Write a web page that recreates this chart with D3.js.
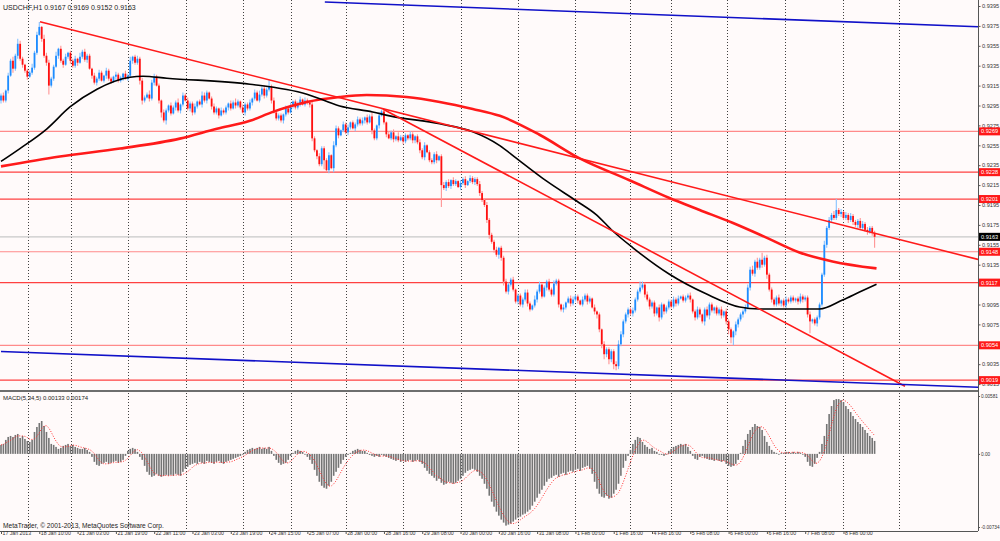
<!DOCTYPE html>
<html><head><meta charset="utf-8">
<script src="https://cdn.jsdelivr.net/npm/d3@7"></script>
<style>
html,body{margin:0;padding:0;background:#fffafa;overflow:hidden;}
svg{display:block;}
text{font-family:"Liberation Sans",Arial,sans-serif;}
</style></head><body>
<svg id="c" width="1000" height="541"></svg>
<script>
// ---------------- DATA ----------------
const symbol = "USDCHF,H1";
const lastOHLC = ["0.9167", "0.9169", "0.9152", "0.9163"];
const macdTitle = "MACD(5,34,5) 0.00133 0.00174";
const copyright = "MetaTrader, \u00A9 2001-2013, MetaQuotes Software Corp.";
const pipBase = 0.9000;          // closes are in pips above this
const firstOpen = 300;
// hourly closes (pips above 0.9000)
const closes = [
305,300,310,325,340,332,345,357,342,336,
330,324,328,333,348,366,374,362,345,338,
315,322,334,345,352,340,336,344,348,340,
335,342,338,344,349,341,345,332,325,318,
322,328,320,325,330,322,319,324,326,320,
323,327,322,325,340,344,338,342,320,300,
303,306,302,318,324,315,300,288,280,290,
295,287,293,298,290,296,305,300,292,297,
288,294,299,296,305,300,308,302,294,288,
292,285,290,288,293,297,292,298,295,299,
293,288,296,292,298,302,308,300,306,312,
305,311,314,300,288,282,285,280,286,292,
288,295,299,293,297,301,296,300,298,296,
262,250,244,236,252,240,230,245,232,255,
272,265,270,276,268,273,278,272,276,281,
277,280,283,278,284,270,262,275,285,289,
278,266,262,268,261,264,260,263,259,265,
262,266,260,264,258,250,243,255,248,240,
238,246,240,244,215,212,218,214,220,216,
219,213,217,221,215,219,222,218,221,216,
207,200,195,180,165,158,150,145,152,142,
118,108,115,120,110,98,104,95,100,107,
96,90,94,100,108,115,103,112,118,110,
105,116,119,95,90,92,97,101,96,100,
103,99,95,100,104,98,101,92,88,85,
70,55,45,50,40,48,35,33,55,65,
78,85,90,86,89,100,108,112,115,105,
100,93,97,86,92,82,95,88,92,98,
93,100,96,101,103,99,102,104,100,88,
82,90,85,78,90,84,95,89,92,86,
90,84,88,78,70,62,68,75,80,85,
88,92,112,130,126,138,132,140,135,142,
125,110,100,95,102,96,99,94,100,98,
102,99,101,98,103,100,102,85,78,80,
76,82,95,125,155,172,180,185,182,190,
186,188,182,185,180,184,178,175,179,172,
176,170,168,172,167,163];
// upper / lower wick length per bar in pips (base-36 digits)
const upperWicks =
"2313242532"+"1224235143"+"3224132312"+"2314232213"+"2321322132"+"2132412323"+
"2243322132"+"1322413232"+"2312432123"+"2132213242"+"1322313242"+"3272312213"+
"2312231322"+"3213222314"+"3213231223"+"2313242132"+"2132314222"+"1321232312"+
"2231232313"+"2132313222"+"3213222312"+"2322312223"+"3214231223"+"2322131233"+
"2213222131"+"2132222343"+"2222322632"+"3222132122"+"2323122231"+"2321232212"+
"2313221322"+"2333424272"+"3222231232"+"2212322231"+"222242324b"+"2313232223"+"323222";
const lowerWicks =
"3223142323"+"2312221323"+"9221323123"+"2231223132"+"3212322132"+"2312232244"+
"2132313524"+"2213232123"+"3221323132"+"2312232132"+"2132232122"+"3223122232"+
"2132231223"+"3232292314"+"2312232132"+"2232142231"+"2312322132"+"2233232312"+
"2231m23232"+"2132312232"+"3223423243"+"4232223232"+"3212322132"+"2223232132"+
"2312232134"+"3453535432"+"3232322223"+"2323242322"+"2232122232"+"3232424232"+
"2323568432"+"3223232232"+"4232223232"+"22232323c2"+"2322232222"+"2322323232"+"32323b";
// MACD main values (units of 0.0001)
const macd = [
9,10,14,17,18,17,19,20,16,18,
15,13,12,14,22,27,31,33,28,22,
16,10,9,7,5,6,8,9,10,8,
9,7,6,5,5,6,4,2,-3,-8,
-11,-12,-10,-9,-8,-10,-9,-8,-7,-9,
-8,-6,-2,3,5,6,5,2,-3,-6,
-12,-18,-21,-23,-22,-20,-22,-23,-22,-21,
-22,-21,-22,-20,-21,-22,-18,-15,-13,-11,
-10,-9,-10,-8,-9,-10,-7,-8,-9,-10,
-8,-7,-9,-10,-8,-7,-6,-5,-4,-3,
-2,0,2,4,5,6,5,6,7,5,
6,5,7,3,-2,-6,-9,-11,-10,-9,
-6,-2,1,3,4,3,2,0,-3,-6,
-10,-16,-22,-28,-32,-34,-35,-32,-28,-22,
-18,-14,-10,-6,-3,-1,1,3,4,5,
4,3,3,1,-1,-2,-3,-2,-3,-1,
-2,-3,-4,-5,-6,-7,-6,-8,-7,-8,
-7,-6,-8,-7,-6,-8,-10,-14,-17,-20,
-22,-24,-27,-25,-29,-31,-30,-28,-29,-30,
-29,-27,-25,-22,-19,-17,-16,-15,-16,-18,
-22,-25,-30,-35,-42,-48,-53,-58,-62,-66,
-69,-72,-71,-70,-68,-66,-64,-63,-61,-60,
-58,-56,-52,-48,-44,-40,-36,-32,-28,-25,
-24,-22,-21,-23,-20,-19,-21,-18,-17,-18,
-16,-15,-17,-14,-13,-12,-15,-20,-28,-35,
-40,-43,-44,-42,-45,-44,-40,-36,-30,-22,
-14,-7,-2,4,10,14,17,16,12,9,
7,5,6,3,2,0,-1,-2,0,3,
5,7,8,9,10,9,10,7,3,-2,
-5,-6,-3,-2,-4,-5,-6,-6,-7,-6,
-7,-8,-7,-10,-12,-13,-12,-10,-6,1,
8,14,20,24,27,30,28,27,24,18,
12,8,4,2,1,0,1,1,2,2,
1,2,1,2,1,0,-3,-8,-12,-13,
-10,-4,2,10,18,30,40,48,54,55,
55,54,52,48,45,42,38,35,32,30,
27,24,21,18,16,13];
const signalPeriod = 5;
// moving averages: [bar index, pips]
const blackMA = [[0,238.8],[7.9,251.7],[19.2,271.6],[28.8,293.5],[40.1,311.4],[53.9,323.4],[59.3,324.4],[69.3,322.4],[104,316.4],[127.8,306.4],[141.5,294.5],[155.3,288.5],[162.4,284.6],[183.3,276.6],[197.1,268.6],[208.4,254.7],[215.4,241.8],[228,218.9],[240.5,199],[248.8,185.1],[255.5,169.1],[263.9,152.2],[279.3,125.4],[294.8,105.5],[308.6,92.5],[316.9,90.5],[333.6,90.5],[342,90.5],[351.6,99.5],[358.7,107.5],[365.8,115.4]];
const redMA = [[0,233.8],[24.6,243.8],[49.7,251.7],[74.7,261.7],[90.2,271.6],[104,279.6],[113.6,288.6],[127.8,298.5],[141.5,303.5],[152.8,305.5],[169.5,303.5],[183.3,298.5],[197.1,291.5],[208.4,284.6],[225,265.6],[241.8,241.8],[262.6,219.9],[279.3,202],[291.9,190],[305.6,177.1],[319.8,162.2],[333.6,147.3],[347.4,138.3],[365.8,131.3]];
// trend lines: [bar, pips] -> [bar, pips]
const redTrend = [[[16.3,379.1],[408.2,140.3]], [[159.5,291.5],[377.7,12.9]]];
const blueTrend = [[[135.3,399],[408.2,374.1]], [[0,47.7],[408.2,11.9]]];
const levels = [0.9269, 0.9228, 0.9201, 0.9148, 0.9117, 0.9054, 0.9019];
const levelLight = [true, false, false, true, false, true, false];
const currentPrice = 0.9163;
// 0.9115 and 0.9055 sit under the 0.9117 / 0.9054 level labels in the picture
const priceTicks = [0.9395,0.9375,0.9355,0.9335,0.9315,0.9295,0.9275,0.9255,0.9235,0.9215,0.9195,0.9175,0.9155,0.9135,0.9095,0.9075,0.9035,0.9015];
const macdTicks = [0.00581, 0, -0.00734];
const macdTickLabels = ["0.00581", "0.00", "-0.00734"];
const timeLabels = ["17 Jan 2013","18 Jan 10:00","21 Jan 03:00","21 Jan 19:00","22 Jan 11:00","23 Jan 03:00","23 Jan 19:00","24 Jan 15:00","25 Jan 07:00","28 Jan 00:00","28 Jan 16:00","29 Jan 08:00","30 Jan 00:00","30 Jan 16:00","31 Jan 08:00","1 Feb 00:00","1 Feb 16:00","4 Feb 16:00","5 Feb 08:00","6 Feb 00:00","6 Feb 16:00","7 Feb 08:00","8 Feb 00:00"];
const timeLabelStep = 16;
const gridBars = [11.3,29.2,53,77.2,101,121,144,168,192,216,240,263,280,303.5,327.5,351.6,375.4];

// ---------------- CHART ----------------
const W = 1000, H = 541, plotR = 978, priceBottom = 390, macdTop = 392, macdBottom = 531;
const FONT = "Liberation Sans, Arial, sans-serif";
const svg = d3.select("#c");
svg.append("rect").attr("width", W).attr("height", H).attr("fill", "#fffafa");

const x = d3.scaleLinear().domain([0, 408.2]).range([1, plotR]);
const yP = d3.scaleLinear().domain([0.9015, 0.9395]).range([384.1, 6]);
const yM = d3.scaleLinear().domain([-0.00734, 0.00581]).range([527, 396]);
const px = v => pipBase + v / 10000;

const defs = svg.append("defs");
defs.append("clipPath").attr("id", "cp").append("rect").attr("x", 0).attr("y", 0).attr("width", plotR).attr("height", priceBottom);
defs.append("clipPath").attr("id", "cm").append("rect").attr("x", 0).attr("y", macdTop).attr("width", plotR).attr("height", macdBottom - macdTop);

// vertical dotted grid
svg.append("g").selectAll("line").data(gridBars).join("line")
  .attr("x1", d => Math.round(x(d)) + 0.5).attr("x2", d => Math.round(x(d)) + 0.5)
  .attr("y1", 0).attr("y2", macdBottom)
  .attr("stroke", "#404040").attr("stroke-width", 1).attr("stroke-dasharray", "1,2");

const gp = svg.append("g").attr("clip-path", "url(#cp)");

// horizontal level lines
gp.selectAll("line.lvl").data(levels).join("line").attr("class", "lvl")
  .attr("x1", 0).attr("x2", plotR)
  .attr("y1", d => yP(d)).attr("y2", d => yP(d))
  .attr("stroke", (d, i) => levelLight[i] ? "#ff8a8a" : "#ff4040").attr("stroke-width", 1.2);
gp.append("line").attr("x1", 0).attr("x2", plotR)
  .attr("y1", yP(currentPrice)).attr("y2", yP(currentPrice))
  .attr("stroke", "#c8c8c8").attr("stroke-width", 1.2);

// candles
const n = Math.min(closes.length, upperWicks.length, lowerWicks.length);
const bars = d3.range(n).map(i => {
  const o = i === 0 ? firstOpen : closes[i - 1];
  const c = closes[i];
  const h = Math.max(o, c) + parseInt(upperWicks[i], 36);
  const l = Math.min(o, c) - parseInt(lowerWicks[i], 36);
  return {i, o, c, h, l};
});
const cg = gp.append("g");
cg.selectAll("line").data(bars).join("line")
  .attr("x1", d => x(d.i)).attr("x2", d => x(d.i))
  .attr("y1", d => yP(px(d.h))).attr("y2", d => yP(px(d.l)))
  .attr("stroke", d => d.c > d.o ? "#86c2ff" : "#ff9494").attr("stroke-width", 1.1);
cg.selectAll("rect").data(bars).join("rect")
  .attr("x", d => x(d.i) - 0.9).attr("width", 1.8)
  .attr("y", d => yP(px(Math.max(d.o, d.c))))
  .attr("height", d => Math.max(1, yP(px(Math.min(d.o, d.c))) - yP(px(Math.max(d.o, d.c)))))
  .attr("fill", d => d.c > d.o ? "#1e8cff" : "#ff1010");

// moving averages
const maLine = d3.line().x(d => x(d[0])).y(d => yP(px(d[1]))).curve(d3.curveMonotoneX);
gp.append("path").attr("d", maLine(redMA)).attr("fill", "none").attr("stroke", "#ff1a1a").attr("stroke-width", 2.6);
gp.append("path").attr("d", maLine(blackMA)).attr("fill", "none").attr("stroke", "#000").attr("stroke-width", 1.6);

// trend lines
const tl = d3.line().x(d => x(d[0])).y(d => yP(px(d[1])));
redTrend.forEach(s => gp.append("path").attr("d", tl(s)).attr("fill", "none").attr("stroke", "#ff1a1a").attr("stroke-width", 1.6));
blueTrend.forEach(s => gp.append("path").attr("d", tl(s)).attr("fill", "none").attr("stroke", "#1010c8").attr("stroke-width", 1.6));

// MACD
const gm = svg.append("g").attr("clip-path", "url(#cm)");
const mv = macd.map(v => v / 10000);
gm.selectAll("rect").data(mv).join("rect")
  .attr("x", (d, i) => x(i) - 0.8).attr("width", 1.6)
  .attr("y", d => Math.min(yM(0), yM(d)))
  .attr("height", d => Math.max(0.8, Math.abs(yM(d) - yM(0))))
  .attr("fill", "#747474");
const signal = mv.map((d, i) => d3.mean(mv.slice(Math.max(0, i - signalPeriod + 1), i + 1)));
gm.append("path").attr("d", d3.line().x((d, i) => x(i)).y(d => yM(d))(signal))
  .attr("fill", "none").attr("stroke", "#ff3030").attr("stroke-width", 1).attr("stroke-dasharray", "1,1.6");

// frame
svg.append("line").attr("x1", 0).attr("x2", plotR).attr("y1", 391).attr("y2", 391).attr("stroke", "#6e6e6e").attr("stroke-width", 2);
svg.append("line").attr("x1", plotR + 0.5).attr("x2", plotR + 0.5).attr("y1", 0).attr("y2", macdBottom).attr("stroke", "#555").attr("stroke-width", 1);

// price axis
const pa = svg.append("g").attr("transform", `translate(${plotR + 0.5},0)`)
  .call(d3.axisRight(yP).tickValues(priceTicks).tickFormat(d3.format(".4f")).tickSize(2).tickPadding(1.5));
pa.select(".domain").remove();
pa.selectAll("line").attr("stroke", "#555");
pa.selectAll("text").attr("font-size", 5.6).attr("fill", "#333").attr("font-family", FONT);

// MACD axis
const ma = svg.append("g").attr("transform", `translate(${plotR + 0.5},0)`)
  .call(d3.axisRight(yM).tickValues(macdTicks).tickFormat((d, i) => macdTickLabels[i]).tickSize(1.5).tickPadding(1));
ma.select(".domain").remove();
ma.selectAll("line").attr("stroke", "#555");
ma.selectAll("text").attr("font-size", 4.7).attr("fill", "#333").attr("font-family", FONT);

// level labels
const lg = svg.append("g");
levels.forEach(v => {
  lg.append("rect").attr("x", plotR + 1).attr("y", yP(v) - 4).attr("width", 21).attr("height", 8).attr("fill", "#ff1818");
  lg.append("text").attr("x", plotR + 3).attr("y", yP(v) + 2).attr("font-size", 5.6).attr("fill", "#fff").text(d3.format(".4f")(v));
});
lg.append("rect").attr("x", plotR + 1).attr("y", yP(currentPrice) - 4).attr("width", 21).attr("height", 8).attr("fill", "#000");
lg.append("text").attr("x", plotR + 3).attr("y", yP(currentPrice) + 2).attr("font-size", 5.6).attr("fill", "#fff").text(d3.format(".4f")(currentPrice));

// time axis
const ta = svg.append("g").attr("transform", `translate(0,${macdBottom})`)
  .call(d3.axisBottom(x).tickValues(timeLabels.map((t, k) => k * timeLabelStep))
    .tickFormat((d, k) => timeLabels[k]).tickSize(3).tickPadding(2));
ta.select(".domain").attr("d", `M0,0.5H${plotR}`).attr("stroke", "#555");
ta.selectAll("line").attr("stroke", "#555");
ta.selectAll("text").attr("text-anchor", "start").attr("dx", 1).attr("dy", "-0.2em")
  .attr("font-size", 5.2).attr("fill", "#333").attr("font-family", FONT);

// titles
svg.append("text").attr("x", 3).attr("y", 10).attr("font-size", 7).attr("fill", "#222")
  .text(symbol + "  " + lastOHLC.join(" "));
svg.append("text").attr("x", 3).attr("y", 400).attr("font-size", 6).attr("fill", "#222").text(macdTitle);
svg.append("text").attr("x", 3).attr("y", 528).attr("font-size", 6.6).attr("fill", "#222").text(copyright);
</script>
</body></html>
